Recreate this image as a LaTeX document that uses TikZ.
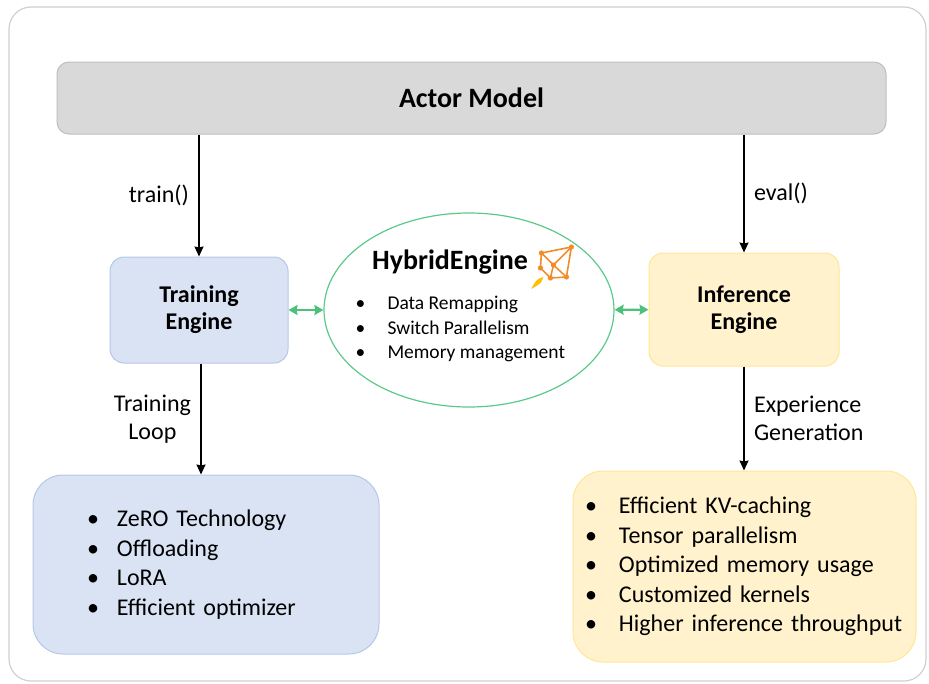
\documentclass[tikz,border=0pt]{standalone}
\usepackage{fontspec}
\setmainfont{Carlito}
\usetikzlibrary{shapes.geometric,arrows.meta,positioning}
\definecolor{framegray}{HTML}{D0D0D0}
\definecolor{actorfill}{HTML}{D9D9D9}
\definecolor{actordraw}{HTML}{BFBFBF}
\definecolor{bluefill}{HTML}{DAE3F3}
\definecolor{bluedraw}{HTML}{B4C7E7}
\definecolor{yellowfill}{HTML}{FFF2CC}
\definecolor{yellowdraw}{HTML}{FFE699}
\definecolor{hybgreen}{HTML}{5CC98A}
\definecolor{linkgreen}{HTML}{4CC17A}
\definecolor{iconorange}{HTML}{F28C28}
\definecolor{flameyellow}{HTML}{FFC000}
\newcommand{\blt}[1]{\makebox[#1][l]{\textbullet}}

\begin{document}
\begin{tikzpicture}[x=1pt, y=-1pt,
  actorbox/.style={draw=actordraw, fill=actorfill, line width=1pt, rounded corners=12pt,
    minimum width=829pt, minimum height=72pt, font=\fontsize{28}{32}\selectfont\bfseries},
  engine/.style={draw, line width=1pt, rounded corners=14pt, align=center,
    font=\fontsize{24}{27}\selectfont\bfseries},
  feats/.style={draw, line width=1pt, rounded corners=30pt, align=left,
    font=\fontsize{24}{29.5}\selectfont},
  lbl/.style={font=\fontsize{24}{28}\selectfont},
  flow/.style={-{Stealth[length=10pt,width=9pt,inset=1pt]}, line width=1.4pt},
  link/.style={{Stealth[length=9pt,width=10pt,inset=1pt]}-{Stealth[length=9pt,width=10pt,inset=1pt]},
    linkgreen, line width=2.2pt}]
  \useasboundingbox (0,0) rectangle (929,683);
  \draw[framegray, line width=1.2pt, rounded corners=22pt] (9,7) rectangle (926,681);

  \node[actorbox] (actor) at (471.5,98) {Actor Model};
  \node[engine, draw=bluedraw, fill=bluefill, minimum width=178pt, minimum height=106pt]
    (train) at (199,310) {Training\\Engine};
  \node[engine, draw=yellowdraw, fill=yellowfill, minimum width=190pt, minimum height=113pt]
    (infer) at (744,309.5) {Inference\\Engine};
  \node[ellipse, draw=hybgreen, line width=1.2pt, minimum width=290pt, minimum height=194pt]
    (hyb) at (469,310) {};
  \node[font=\fontsize{28}{32}\selectfont\bfseries] (htitle) at (450,262) {HybridEngine};
  \node[anchor=west, align=left, font=\fontsize{19.5}{24.5}\selectfont] (hlist) at (352,329)
    {\blt{32pt}Data Remapping\\ \blt{32pt}Switch Parallelism\\ \blt{32pt}Memory management};

  % small rocket icon
  \begin{scope}[shift={(htitle.east)}, iconorange, line width=1.6pt]
    \draw (10,-9) -- (40,-15) -- (35,15) -- (19,16) -- (9,6) -- cycle;
    \draw (10,-9) -- (22,3) -- (40,-15) (22,3) -- (19,16) (22,3) -- (35,15);
    \foreach \p in {(10,-9),(40,-15),(22,3),(9,6),(19,16),(35,15)}
      \fill \p circle (2.6pt);
    \fill[flameyellow] (0,27) .. controls (3,20) and (6,16) .. (12,15)
      .. controls (10,21) .. (0,27);
  \end{scope}

  \node[feats, draw=bluedraw, fill=bluefill, minimum width=346pt, minimum height=179pt,
    text width=238pt, inner xsep=0pt] (tfeat) at (206,564.5)
    {\blt{30pt}ZeRO Technology\\ \blt{30pt}Offloading\\ \blt{30pt}LoRA\\ \blt{30pt}Efficient optimizer};
  \node[feats, draw=yellowdraw, fill=yellowfill, minimum width=343pt, minimum height=191pt,
    text width=319pt, inner xsep=0pt] (ifeat) at (744.5,566.5)
    {\blt{34pt}Efficient KV-caching\\ \blt{34pt}Tensor parallelism\\ \blt{34pt}Optimized memory usage\\
     \blt{34pt}Customized kernels\\ \blt{34pt}Higher inference throughput};

  \path[flow]
  (actor.south -| train.north) edge node[lbl, left=6pt] {train()} (train.north)
  (actor.south -| infer.north) edge node[lbl, right=6pt] {eval()} (infer.north)
  ([xshift=2pt]train.south) edge node[lbl, left=6pt, align=center] {Training\\Loop}
    ([xshift=2pt]train.south |- tfeat.north)
  (infer.south) edge node[lbl, right=6pt, align=left] {Experience\\Generation}
    (infer.south |- ifeat.north);
  \path[link]
  (train) edge (hyb)
  (hyb) edge (infer);
\end{tikzpicture}
\end{document}
